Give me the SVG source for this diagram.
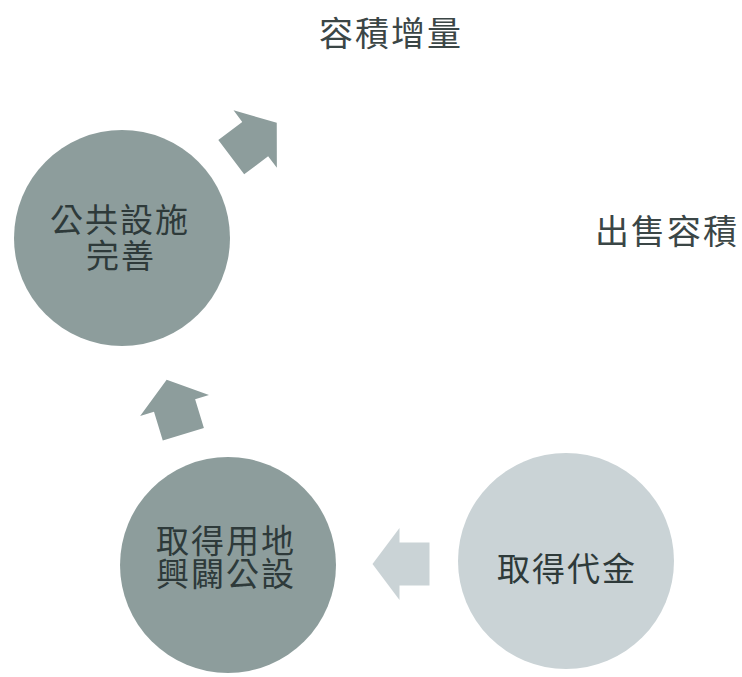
<svg xmlns="http://www.w3.org/2000/svg" width="742" height="677" viewBox="0 0 742 677">
<style>
.lbl{font-family:"Noto Sans CJK TC","Noto Sans CJK SC",sans-serif;font-size:33px;letter-spacing:2px;fill:#2e3a3a;text-anchor:middle;dominant-baseline:central}
.top{font-size:34px;letter-spacing:2px;fill:#3b4646}
.dark{fill:#8d9d9c}
.light{fill:#cad3d6}
</style>
<defs>
<polygon id="arr" points="-28.5,-21.5 1.5,-21.5 1.5,-36 28.5,0 1.5,36 1.5,21.5 -28.5,21.5"/>
</defs>
<rect width="742" height="677" fill="#ffffff"/>
<g id="connectors">
<use href="#arr" class="dark" transform="translate(254,140) rotate(-37)"/>
<use href="#arr" class="dark" transform="translate(175,407) rotate(-107)"/>
<use href="#arr" class="light" transform="translate(401,564) rotate(180)"/>
</g>
<g id="node-top">
<text class="lbl top" x="391" y="31">容積增量</text>
</g>
<g id="node-right">
<text class="lbl top" x="667" y="229">出售容積</text>
</g>
<g id="node-left">
<circle class="dark" cx="122" cy="238" r="108"/>
<text class="lbl"><tspan x="120" y="218">公共設施</tspan><tspan x="121" y="254">完善</tspan></text>
</g>
<g id="node-bottom-left">
<circle class="dark" cx="228" cy="565" r="108"/>
<text class="lbl"><tspan x="226" y="539">取得用地</tspan><tspan x="226" y="572">興闢公設</tspan></text>
</g>
<g id="node-bottom-right">
<circle class="light" cx="566" cy="561" r="108"/>
<text class="lbl" x="567" y="567">取得代金</text>
</g>
</svg>
